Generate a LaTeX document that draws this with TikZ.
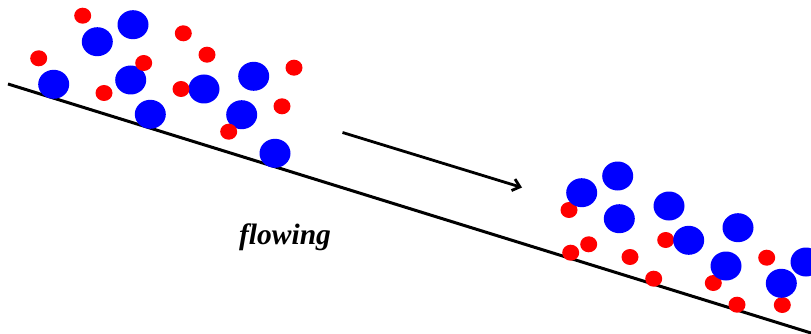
\documentclass[tikz,border=0pt]{standalone}
\usepackage{fontspec}
\setmainfont{Liberation Serif}
\usetikzlibrary{arrows.meta}
\begin{document}
\begin{tikzpicture}[x=1pt,y=-1pt,
  big/.style={fill=blue,draw=none,x radius=15.5,y radius=14.5},
  small/.style={fill=red,draw=none,x radius=8.5,y radius=8},
  slope/.style={line width=3pt},
  flowarrow/.style={line width=2.8pt,-{Straight Barb[length=7pt,width=12pt]}}]
\useasboundingbox (0,0) rectangle (811,334);
% inclined surface
\coordinate (s0) at (8,84);
\coordinate (s1) at (820,335.8);
\draw[slope] (s0) -- (s1);
% direction of motion
\coordinate (a0) at (342.5,132.5);
\coordinate (a1) at (522,187.5);
\draw[flowarrow] (a0) -- (a1);
\node[font=\bfseries\itshape\fontsize{29.5}{32}\selectfont,anchor=base] (lbl) at (285,244) {flowing};
% particles before flowing
\foreach \p in {(53.7,84.3),(97.3,41.7),(133,24.7),(130.7,80),(150.3,114.3),(204,89),(253.7,76.3),(241.7,114.7),(275,153.3)}
  \fill[big] \p ellipse[];
\foreach \p in {(82.7,15.7),(38.7,58.3),(143.7,63),(104,93),(183.3,33.3),(207,54.7),(181,89),(294,67.7),(282,106.3),(228.7,131.7)}
  \fill[small] \p ellipse[];
% particles after flowing
\foreach \p in {(569,210),(588.7,244.3),(570.7,252.7),(630,257),(665.7,240),(653.7,278.7),(713.3,283),(737,304.7),(766.7,257.7),(782.3,305)}
  \fill[small] \p ellipse[];
\foreach \p in {(581.7,192.7),(617.7,176),(619.3,218.7),(669,206),(688.7,240.3),(738,227.7),(726,266),(781.3,283.3),(806,262)}
  \fill[big] \p ellipse[];
\end{tikzpicture}
\end{document}
